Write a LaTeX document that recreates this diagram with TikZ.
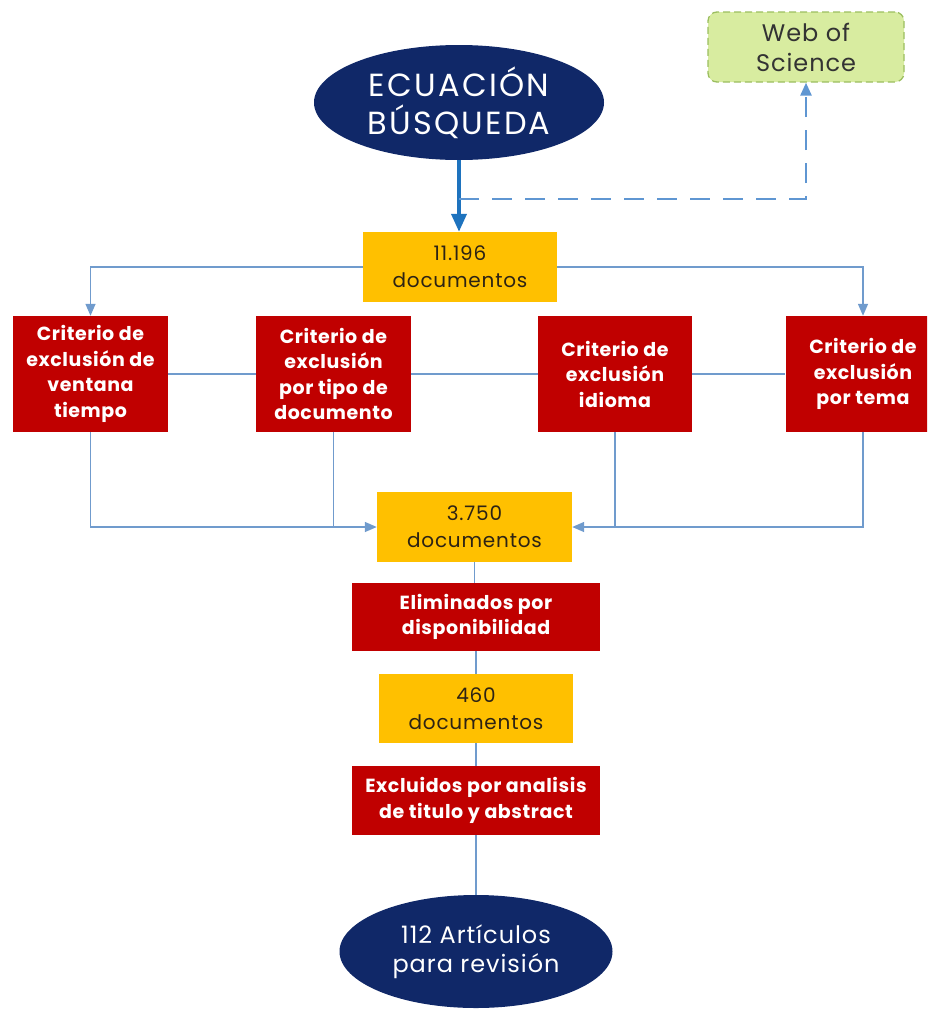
\documentclass[tikz,border=0pt]{standalone}
\usepackage{fontspec}
\setmainfont{Poppins}
\usetikzlibrary{arrows.meta,shapes.geometric}
\definecolor{navy}{RGB}{16,40,104}
\definecolor{crimson}{RGB}{192,0,0}
\definecolor{gold}{RGB}{255,192,0}
\definecolor{lime}{RGB}{216,236,160}
\definecolor{limeline}{RGB}{155,190,95}
\definecolor{link}{RGB}{112,155,205}
\definecolor{mainblue}{RGB}{30,115,190}
\definecolor{dashblue}{RGB}{95,150,210}
\definecolor{darktext}{RGB}{45,35,20}

\newcommand{\spaced}[1]{\addfontfeatures{LetterSpace=#1}}

\tikzset{
  oval/.style={ellipse, fill=navy, text=white, align=center, inner sep=0pt},
  countbox/.style={rectangle, fill=gold, text=darktext, align=center, inner sep=0pt,
    font=\fontsize{20}{27}\selectfont\spaced{4}},
  rulebox/.style={rectangle, fill=crimson, text=white, align=center, inner sep=0pt,
    font=\bfseries\fontsize{19}{25.5}\selectfont\spaced{3}},
  sourcebox/.style={rectangle, rounded corners=9pt, fill=lime, draw=limeline,
    line width=1.3pt, dash pattern=on 7pt off 4pt, text=black!80, align=center,
    inner sep=0pt, font=\fontsize{24}{30}\selectfont\spaced{4}},
  link/.style={draw=link, line width=1.4pt},
  linkarrow/.style={link, -{Triangle[length=12pt,width=10pt]}},
}

\begin{document}
\begin{tikzpicture}[x=1pt,y=-1pt]
\useasboundingbox (0,0) rectangle (927,1009);
\clip (0,0) rectangle (927,1009);

% start and end ovals
\node[oval, minimum width=290pt, minimum height=115pt,
      font=\fontsize{32}{38}\selectfont\spaced{7}] (eq) at (459,102.5) {ECUACIÓN\\BÚSQUEDA};
\node[oval, minimum width=273pt, minimum height=113pt,
      font=\fontsize{24}{29}\selectfont\spaced{4}] (fin) at (476,951.5) {112 Artículos\\para revisión};

% database source
\node[sourcebox, minimum width=196pt, minimum height=70pt] (wos) at (806,47) {Web of\\Science};

% document counts
\node[countbox, minimum width=194pt, minimum height=70pt] (n1) at (460,267) {11.196\\documentos};
\node[countbox, minimum width=195pt, minimum height=70pt] (n2) at (474.5,527) {3.750\\documentos};
\node[countbox, minimum width=194pt, minimum height=69pt] (n3) at (476,708.5) {460\\documentos};

% exclusion criteria
\node[rulebox, minimum width=155pt, minimum height=116pt] (c1) at (90.5,374)
  {Criterio de\\exclusión de\\ventana\\tiempo};
\node[rulebox, minimum width=155pt, minimum height=116pt] (c2) at (333.5,374)
  {Criterio de\\exclusión\\por tipo de\\documento};
\node[rulebox, minimum width=154pt, minimum height=116pt] (c3) at (615,374)
  {Criterio de\\exclusión\\idioma};
\node[rulebox, minimum width=155pt, minimum height=116pt] (c4) at (863,374)
  {Criterio de\\exclusión\\por tema};

% filtering steps
\node[rulebox, minimum width=248pt, minimum height=68pt] (e1) at (476,617)
  {Eliminados por\\disponibilidad};
\node[rulebox, minimum width=248pt, minimum height=69pt] (e2) at (476,800.5)
  {Excluidos por analisis\\de titulo y abstract};

% search equation to first count, with the database link
\draw[draw=mainblue, line width=3.8pt, -{Triangle[length=18pt,width=15pt]}]
  (eq.south) -- (eq.south |- n1.north);
\coordinate (split) at (459,199);
\draw[draw=dashblue, line width=2.6pt, dash pattern=on 20pt off 13pt,
      -{Triangle[length=13pt,width=11pt]}]
  (split) -| (wos.south);

% first count to the outer criteria
\draw[linkarrow] (n1.west) -| (c1.north);
\draw[linkarrow] (n1.east) -| (c4.north);
\draw[link] (c1.east) -- (c2.west);
\draw[link] (c2.east) -- (c3.west);
\draw[link] (c3.east) -- (c4.west);

% criteria to second count
\draw[linkarrow] (c1.south) |- (n2.west);
\draw[link] (c2.south) -- (c2.south |- n2.west);
\draw[linkarrow] (c4.south) |- (n2.east);
\draw[link] (c3.south) -- (c3.south |- n2.east);

% vertical chain
\draw[link] (n2.south) -- (n2.south |- e1.north);
\draw[link] (e1.south) -- (e1.south |- n3.north);
\draw[link] (n3.south) -- (n3.south |- e2.north);
\draw[link] (e2.south) -- (e2.south |- fin.north);
\end{tikzpicture}
\end{document}
